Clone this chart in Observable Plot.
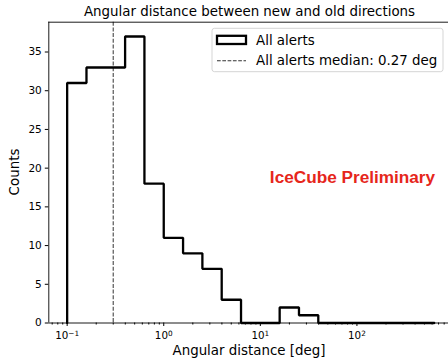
<!DOCTYPE html>
<html>
<head>
<meta charset="utf-8">
<script src="https://cdn.jsdelivr.net/npm/d3@7"></script>
<script src="https://cdn.jsdelivr.net/npm/@observablehq/plot@0.6"></script>
<style>
  html, body { margin: 0; padding: 0; background: #fff; }
  #chart { width: 448px; height: 361px; overflow: hidden; }
  svg { font-family: "DejaVu Sans", sans-serif; }
</style>
</head>
<body>
<div id="chart"></div>
<script>
// ---- data ----
const binEdges = [0.1, 0.1585, 0.2512, 0.3981, 0.631, 1, 1.585, 2.512, 3.981, 6.31, 10, 15.85, 25.12, 39.81, 63.1, 100, 158.5, 251.2, 398.1, 631];
const counts   = [31, 33, 33, 37, 18, 11, 9, 7, 3, 0, 0, 2, 1, 0, 0, 0, 0, 0, 0];
const medianPosition = 0.3;
const medianLabel = "All alerts median: 0.27 deg";
const seriesLabel = "All alerts";
const yTicks = [0, 5, 10, 15, 20, 25, 30, 35];
const xMajorTicks = [0.1, 1, 10, 100];
const xTickBase = "10";
const xTickExponents = ["\u22121", "0", "1", "2"];
const titleText = "Angular distance between new and old directions";
const xLabel = "Angular distance [deg]";
const yLabel = "Counts";
const watermark = "IceCube Preliminary";

// ---- step outline built from the histogram ----
const outline = [{x: binEdges[0], y: 0}];
counts.forEach((c, i) => {
  outline.push({x: binEdges[i], y: c});
  outline.push({x: binEdges[i + 1], y: c});
});
outline.push({x: binEdges[binEdges.length - 1], y: 0});

const yMax = d3.max(counts) * 1.05;
const xDomain = [Math.pow(10, -1.19), Math.pow(10, 2.948)];

const minorTicks = [];
for (let p = -2; p <= 3; p++) {
  for (let m = 2; m <= 9; m++) {
    const v = m * Math.pow(10, p);
    if (v > xDomain[0] && v < xDomain[1]) minorTicks.push(v);
  }
}

const W = 448, H = 361;
const plot = Plot.plot({
  width: W,
  height: H,
  marginLeft: 48.3,
  marginRight: 0,
  marginTop: 21.7,
  marginBottom: 38.5,
  style: {fontFamily: "DejaVu Sans, sans-serif", fontSize: "10.5px", background: "white", color: "black"},
  x: {type: "log", domain: xDomain},
  y: {domain: [0, yMax]},
  marks: [
    Plot.axisY({ticks: yTicks, tickSize: 3.5, tickPadding: 3.5, label: null, tickFormat: d => String(d), fontSize: 10.5}),
    Plot.axisX({ticks: xMajorTicks, tickSize: 3.5, tickPadding: 5, label: null,
      tickFormat: d => "exp" + xMajorTicks.indexOf(d), fontSize: 10.3}),
    Plot.axisX({ticks: minorTicks, tickSize: 2, label: null, tickFormat: () => ""}),
    Plot.ruleX([medianPosition], {stroke: "#555", strokeWidth: 1.2, strokeDasharray: "4,1.7"}),
    Plot.line(outline, {x: "x", y: "y", stroke: "black", strokeWidth: 2.3, strokeLinejoin: "miter"}),
    Plot.ruleX([xDomain[0]], {stroke: "black", strokeWidth: 0.9}),
    Plot.ruleY([0, yMax], {stroke: "black", strokeWidth: 0.9})
  ]
});
document.getElementById("chart").appendChild(plot);

const svg = d3.select(plot);
// rewrite x tick labels as 10 with a raised exponent (like matplotlib mathtext)
svg.selectAll("text").each(function () {
  const t = d3.select(this);
  const s = t.text();
  const m = /^exp(\d)$/.exec(s);
  if (m) {
    const i = +m[1];
    t.text(null);
    t.append("tspan").text(xTickBase);
    t.append("tspan").attr("dy", "-0.42em").attr("font-size", "7.3px").text(xTickExponents[i]);
  }
});
// title
svg.append("text").attr("x", 249.5).attr("y", 16).attr("text-anchor", "middle")
  .attr("font-size", 13.4).attr("fill", "black").text(titleText);
// axis labels
svg.append("text").attr("x", 249).attr("y", 355).attr("text-anchor", "middle")
  .attr("font-size", 13.4).attr("fill", "black").text(xLabel);
svg.append("text").attr("transform", "translate(19,172) rotate(-90)").attr("text-anchor", "middle")
  .attr("font-size", 13.4).attr("fill", "black").text(yLabel);
// watermark
svg.append("text").attr("x", 352.5).attr("y", 183).attr("text-anchor", "middle")
  .attr("font-family", "Liberation Sans, Arial, sans-serif").attr("font-weight", "bold")
  .attr("font-size", 17.2).attr("fill", "#e6261b").text(watermark);
// legend
const lg = svg.append("g");
lg.append("rect").attr("x", 212).attr("y", 28.3).attr("width", 231).attr("height", 43.4)
  .attr("rx", 2.5).attr("fill", "white").attr("fill-opacity", 0.8).attr("stroke", "#d0d0d0").attr("stroke-width", 0.9);
lg.append("rect").attr("x", 217).attr("y", 35.8).attr("width", 29).attr("height", 8.2)
  .attr("fill", "white").attr("stroke", "black").attr("stroke-width", 2.3);
lg.append("text").attr("x", 256).attr("y", 44.8).attr("text-anchor", "start").attr("font-size", 13.4).attr("fill", "black").text(seriesLabel);
lg.append("line").attr("x1", 217).attr("x2", 246).attr("y1", 60.7).attr("y2", 60.7)
  .attr("stroke", "#333").attr("stroke-width", 1.1).attr("stroke-dasharray", "3.7,1.6");
lg.append("text").attr("x", 256).attr("y", 65.3).attr("text-anchor", "start").attr("font-size", 13.4).attr("fill", "black").text(medianLabel);
</script>
</body>
</html>
